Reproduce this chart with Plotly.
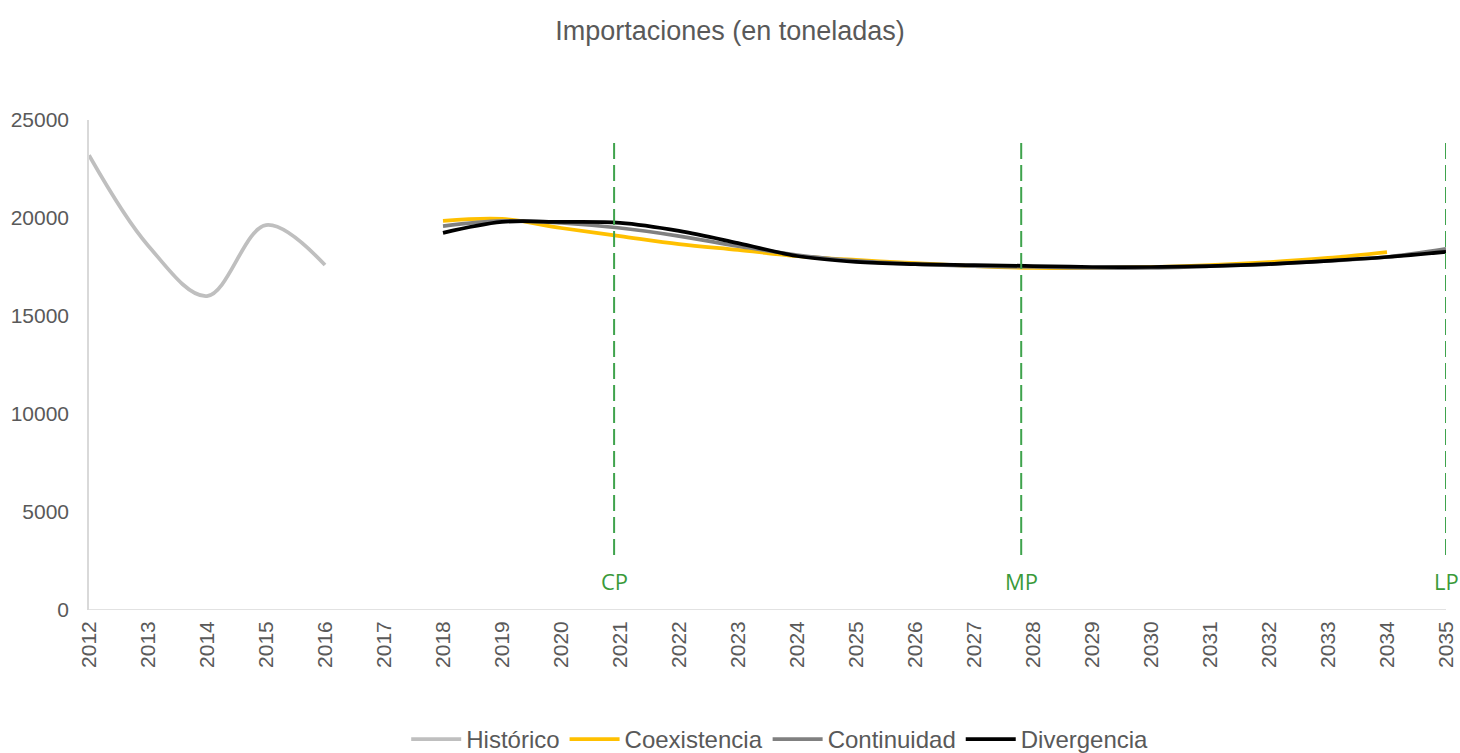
import plotly.graph_objects as go

years = list(range(2012, 2036))
hist_years = [2012, 2013, 2014, 2015, 2016]
historico = [23200, 18600, 16020, 19640, 17600]

scen_years = list(range(2018, 2036))
coexistencia = [19850, 19950, 19490, 19080, 18670, 18370, 18060, 17860, 17700, 17550,
                17450, 17450, 17500, 17600, 17750, 17960, 18260]
continuidad = [19590, 19850, 19750, 19490, 19080, 18570, 18110, 17810, 17650, 17550,
               17500, 17450, 17450, 17550, 17650, 17810, 18010, 18420]
divergencia = [19240, 19800, 19800, 19750, 19340, 18720, 18060, 17760, 17650, 17600,
               17550, 17500, 17500, 17550, 17650, 17810, 18010, 18270]

y_ticks = [0, 5000, 10000, 15000, 20000, 25000]

marker_labels = ["CP", "MP", "LP"]
marker_x = [2020.9, 2027.8, 2035.0]
marker_y = [2800, 24100]

fig = go.Figure()
series = [
    ("Histórico", hist_years, historico, "#bfbfbf"),
    ("Coexistencia", scen_years[:len(coexistencia)], coexistencia, "#ffc000"),
    ("Continuidad", scen_years, continuidad, "#808080"),
    ("Divergencia", scen_years, divergencia, "#000000"),
]
for name, xs, ys, col in series:
    fig.add_trace(go.Scatter(x=xs, y=ys, name=name, mode="lines", cliponaxis=False,
                             line=dict(color=col, width=3.75, shape="spline", smoothing=1.0)))

for lab, mx in zip(marker_labels, marker_x):
    fig.add_trace(go.Scatter(x=[mx, mx], y=marker_y, mode="lines", showlegend=False,
                             cliponaxis=False,
                             line=dict(color="#3fa34d", width=2, dash="16px,6px"),
                             hoverinfo="skip"))
    fig.add_annotation(x=mx, y=0, yshift=29, text=lab, showarrow=False,
                       font=dict(color="#3a9a3a", size=22, family="Open Sans"))

fig.update_layout(
    width=1460, height=753,
    paper_bgcolor="white", plot_bgcolor="white",
    margin=dict(l=89, r=14, t=120, b=143, autoexpand=False),
    title=dict(text="Importaciones (en toneladas)", x=0.5, xanchor="center",
               y=0.96, yanchor="middle",
               font=dict(size=27, color="#595959", family="Liberation Sans")),
    font=dict(family="Liberation Sans", color="#595959", size=20),
    legend=dict(orientation="h", x=0.509, xanchor="center",
                yref="container", y=0.018, yanchor="middle",
                font=dict(size=24, color="#595959"), traceorder="normal",
                itemwidth=50),
    showlegend=True,
)
fig.update_xaxes(range=[2012, 2035], tickmode="array", tickvals=years,
                 ticktext=[str(y) for y in years], tickangle=-90,
                 showgrid=False, zeroline=False, showline=False, automargin=False,
                 ticks="", ticklabelstandoff=6, tickfont=dict(size=21, color="#595959"))
fig.update_yaxes(range=[0, 25000], tickmode="array", tickvals=y_ticks,
                 ticktext=[str(v) for v in y_ticks],
                 showgrid=False, zeroline=False, showline=True, linecolor="#d9d9d9",
                 linewidth=1.5, ticks="", automargin=False, ticklabelstandoff=14,
                 tickfont=dict(size=21, color="#595959"))
fig.add_shape(type="line", xref="paper", yref="y", x0=0, x1=1, y0=0, y1=0,
              line=dict(color="#d9d9d9", width=1.5), layer="below")

fig.write_html("out.html", config={"displayModeBar": False},
               post_script="document.body.style.margin='0';document.body.style.overflow='hidden';")
